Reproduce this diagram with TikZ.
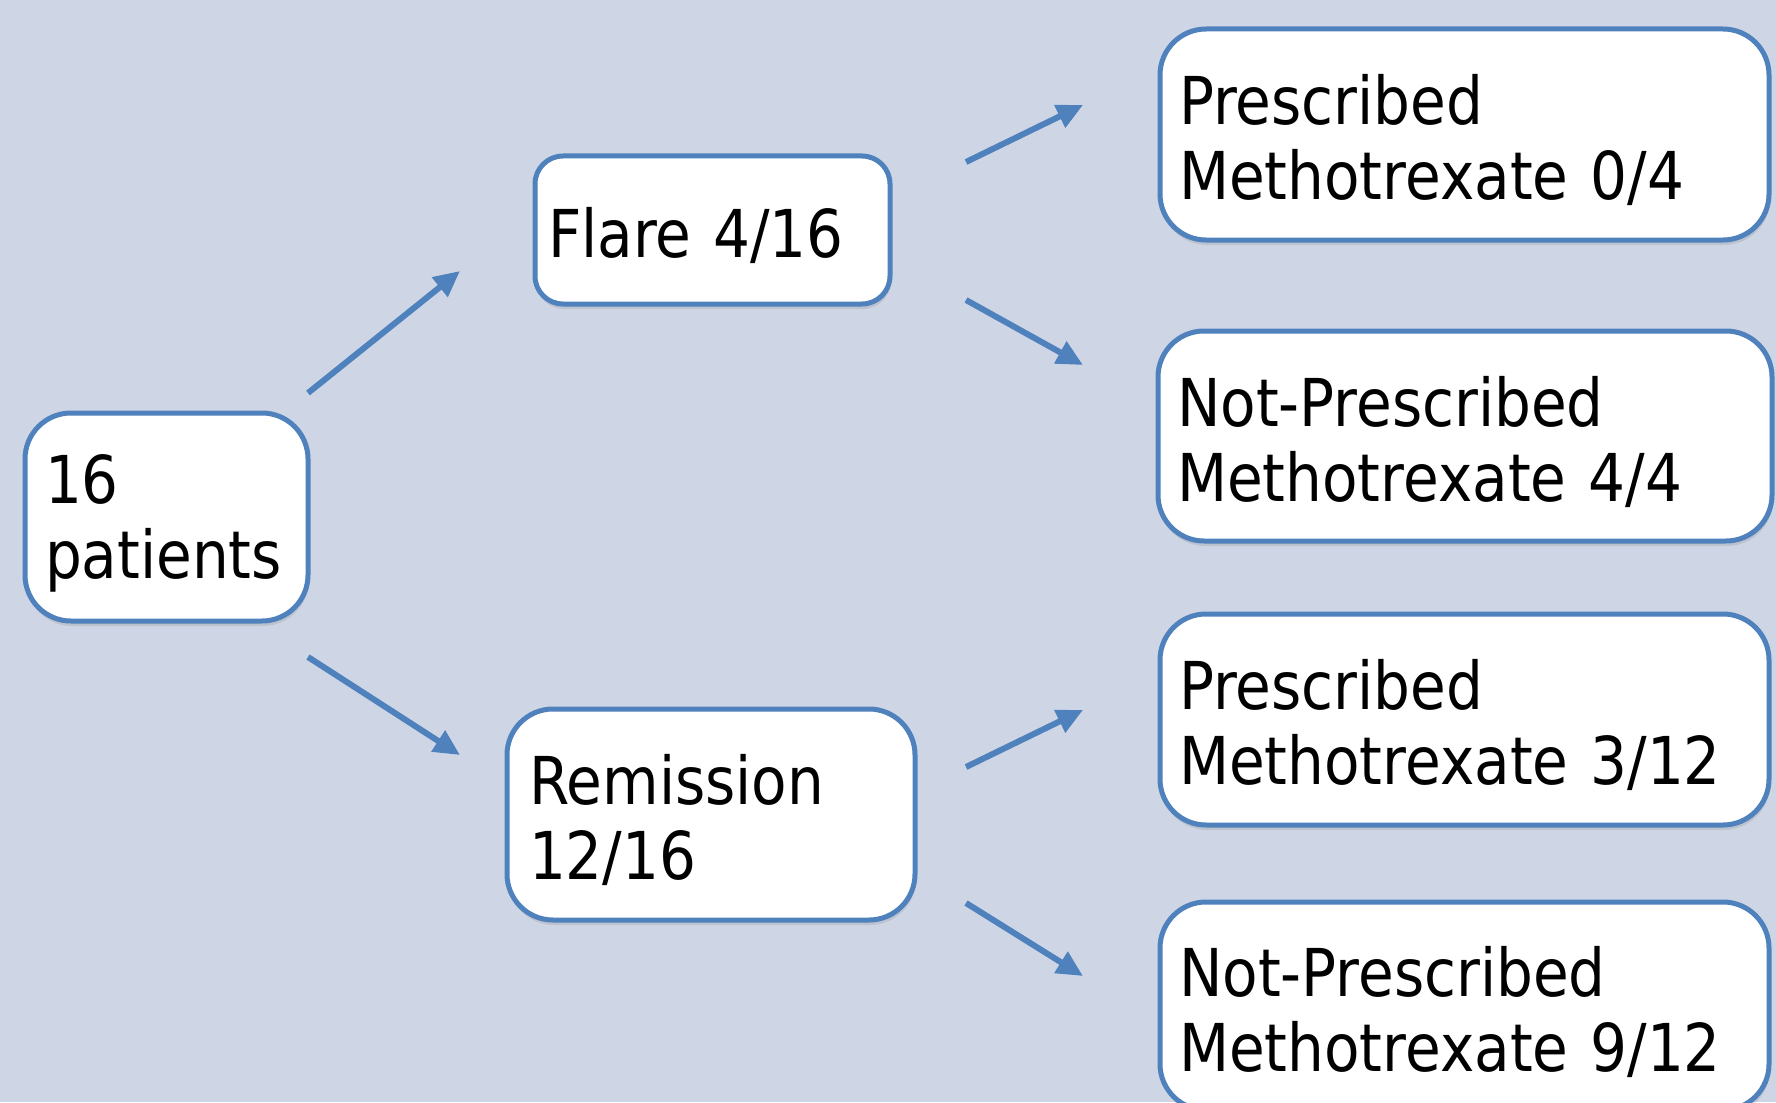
\documentclass[tikz,border=0pt]{standalone}
\usepackage{fontspec}
\newfontfamily\boxfont[FakeStretch=0.88]{DejaVu Sans}
\usetikzlibrary{arrows.meta,shadows}
\definecolor{bgc}{RGB}{206,214,230}
\definecolor{bblue}{RGB}{79,129,189}
\tikzset{
  box/.style={draw=bblue, line width=5pt, fill=white, rounded corners=#1,
    align=left, font=\boxfont\fontsize{66}{75}\selectfont, text=black,
    execute at begin node={\rule{0pt}{62pt}},
    drop shadow={opacity=0.22, shadow xshift=1pt, shadow yshift=-5pt}},
  arr/.style={draw=bblue, line width=6pt, -{Triangle[length=26pt,width=24pt]}}
}
\begin{document}
\begin{tikzpicture}[x=1pt,y=-1pt]
\useasboundingbox (0,0) rectangle (1776,1102);
\clip (0,0) rectangle (1776,1102);
\fill[bgc] (0,0) rectangle (1776,1102);

\node[box=46pt, minimum width=283pt, minimum height=208pt, inner xsep=20pt, text width=243pt] (n0) at (166.5,517) {16\\patients};
\node[box=28pt, minimum width=355pt, minimum height=148pt, inner xsep=13pt, text width=329pt] (flare) at (712.5,230) {Flare 4/16};
\node[box=46pt, minimum width=408pt, minimum height=211pt, inner xsep=22pt, text width=364pt] (rem) at (711,814.5) {Remission\\12/16};
\node[box=46pt, minimum width=609pt, minimum height=211pt, inner xsep=19pt, text width=571pt] (p1) at (1464.5,134.5) {Prescribed\\Methotrexate 0/4};
\node[box=46pt, minimum width=614pt, minimum height=210pt, inner xsep=19pt, text width=576pt] (np1) at (1465,436) {Not-Prescribed\\Methotrexate 4/4};
\node[box=46pt, minimum width=609pt, minimum height=211pt, inner xsep=19pt, text width=571pt] (p2) at (1464.5,719.5) {Prescribed\\Methotrexate 3/12};
\node[box=46pt, minimum width=609pt, minimum height=208pt, inner xsep=19pt, text width=571pt] (np2) at (1464.5,1006) {Not-Prescribed\\Methotrexate 9/12};

\coordinate (a1s) at (308,393); \coordinate (a1e) at (460,271);
\coordinate (a2s) at (308,657); \coordinate (a2e) at (460,755);
\coordinate (a3s) at (966,162); \coordinate (a3e) at (1083,105);
\coordinate (a4s) at (966,300); \coordinate (a4e) at (1083,365);
\coordinate (a5s) at (966,767); \coordinate (a5e) at (1083,710);
\coordinate (a6s) at (966,903); \coordinate (a6e) at (1083,976);

\draw[arr] (a1s) -- (a1e);
\draw[arr] (a2s) -- (a2e);
\draw[arr] (a3s) -- (a3e);
\draw[arr] (a4s) -- (a4e);
\draw[arr] (a5s) -- (a5e);
\draw[arr] (a6s) -- (a6e);
\end{tikzpicture}
\end{document}
